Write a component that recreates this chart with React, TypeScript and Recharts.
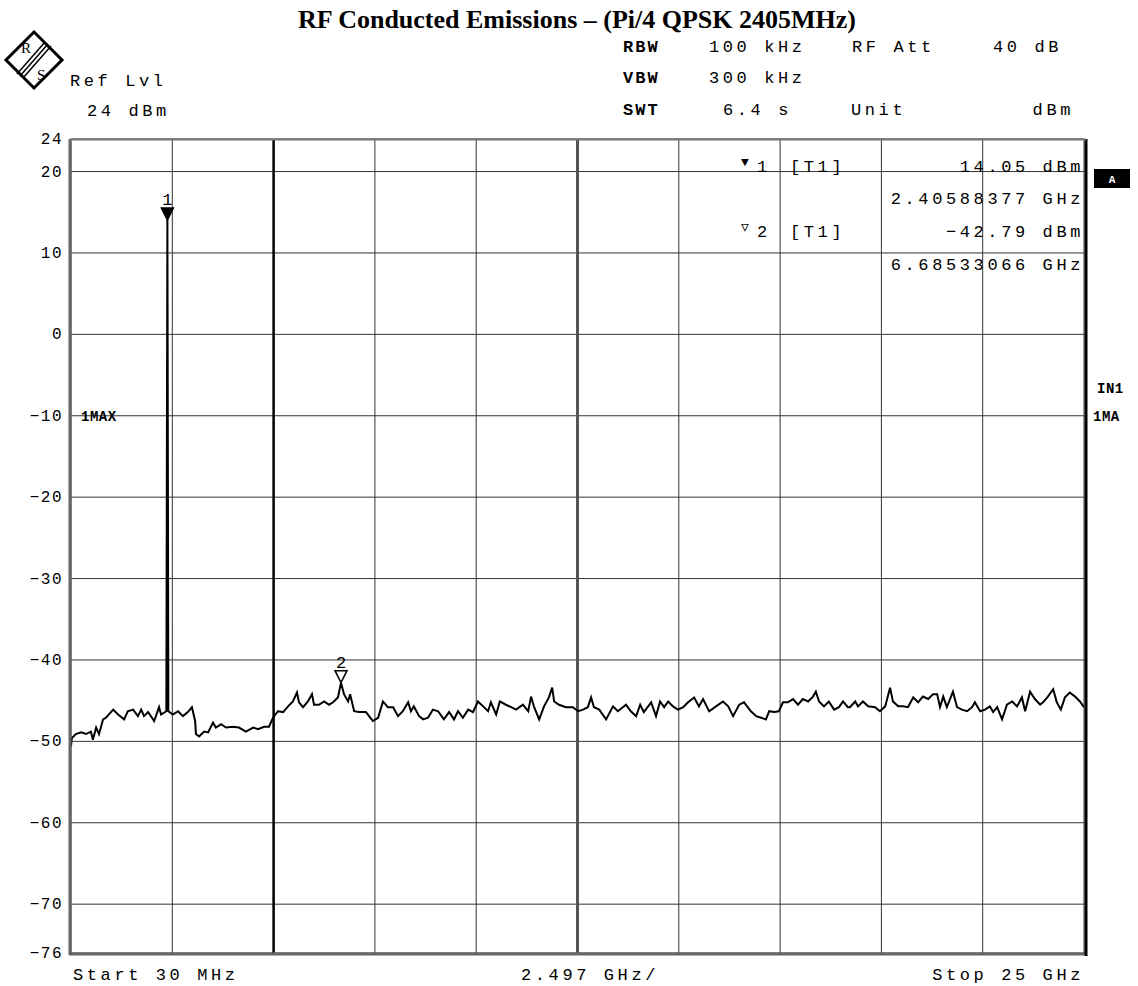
import React from 'react';
import {
  LineChart,
  Line,
  XAxis,
  YAxis,
  CartesianGrid,
  ReferenceLine,
  ReferenceDot,
} from 'recharts';

// trace (GHz / dBm)
const FREQ_GHZ = [
  0.03, 0.05, 0.15, 0.28, 0.4, 0.52, 0.57, 0.65, 0.72, 0.82, 0.89, 1.07, 1.19, 1.34, 1.43, 1.56,
  1.68, 1.76, 1.83, 1.93, 2.08, 2.2, 2.25, 2.38, 2.406, 2.43, 2.54, 2.67, 2.79, 2.91, 3.01, 3.09,
  3.11, 3.19, 3.31, 3.41, 3.53, 3.6, 3.73, 3.85, 4.02, 4.17, 4.34, 4.52, 4.64, 4.79, 4.91, 5.01,
  5.13, 5.26, 5.38, 5.5, 5.6, 5.65, 5.75, 5.87, 5.97, 6.02, 6.14, 6.27, 6.39, 6.49, 6.61, 6.685,
  6.76, 6.86, 6.91, 7.01, 7.13, 7.3, 7.47, 7.6, 7.72, 7.84, 7.97, 8.09, 8.21, 8.34, 8.41, 8.48,
  8.61, 8.71, 8.83, 8.95, 9.08, 9.22, 9.35, 9.47, 9.57, 9.69, 9.82, 9.94, 10.06, 10.19, 10.31, 10.38,
  10.51, 10.6, 10.75, 10.88, 11.0, 11.17, 11.3, 11.37, 11.44, 11.57, 11.69, 11.81, 11.89, 11.94, 12.06, 12.23,
  12.4, 12.53, 12.65, 12.77, 12.85, 12.92, 13.05, 13.22, 13.39, 13.51, 13.71, 13.83, 13.96, 14.06, 14.15, 14.33,
  14.45, 14.55, 14.65, 14.75, 14.87, 14.99, 15.12, 15.24, 15.39, 15.51, 15.61, 15.76, 15.93, 16.1, 16.23, 16.35,
  16.5, 16.62, 16.79, 16.92, 17.04, 17.16, 17.24, 17.36, 17.48, 17.58, 17.7, 17.83, 17.95, 18.07, 18.2, 18.32,
  18.39, 18.47, 18.59, 18.71, 18.84, 18.96, 19.06, 19.18, 19.23, 19.36, 19.43, 19.55, 19.68, 19.85, 19.97, 20.1,
  20.22, 20.29, 20.42, 20.54, 20.66, 20.79, 20.91, 21.03, 21.16, 21.28, 21.38, 21.45, 21.53, 21.62, 21.77, 21.87,
  21.99, 22.12, 22.24, 22.31, 22.44, 22.56, 22.68, 22.76, 22.86, 22.98, 23.1, 23.23, 23.35, 23.47, 23.55, 23.67,
  23.79, 23.92, 23.99, 24.11, 24.24, 24.33, 24.43, 24.53, 24.65, 24.78, 24.9, 25.0,
];

const LEVEL_DBM = [
  -50.6, -49.6, -49.1, -48.9, -49.1, -48.8, -49.8, -48.3, -49.1, -47.3, -47.1, -46.1, -46.7, -47.3, -46.3, -46.1,
  -46.9, -46.1, -46.9, -46.4, -47.5, -45.8, -46.7, -46.3, 14.05, -46.3, -46.7, -46.3, -46.9, -46.4, -45.8, -47.5,
  -49.1, -49.4, -48.8, -48.9, -47.7, -48.3, -47.9, -48.3, -48.2, -48.3, -48.8, -48.3, -48.5, -48.2, -48.2, -47.1,
  -46.3, -46.4, -45.7, -45.1, -44.0, -45.2, -45.8, -45.1, -44.2, -45.5, -45.5, -45.1, -45.5, -45.2, -44.6, -42.79,
  -44.2, -45.1, -44.2, -46.3, -46.4, -46.4, -47.5, -47.1, -45.1, -45.8, -45.8, -46.9, -46.3, -45.2, -46.3, -45.7,
  -46.9, -47.3, -47.1, -46.1, -46.3, -47.3, -46.4, -47.3, -46.3, -47.1, -46.1, -46.4, -45.1, -45.7, -46.3, -45.2,
  -46.7, -45.1, -45.5, -45.8, -46.1, -45.5, -46.3, -44.5, -45.7, -47.3, -45.7, -44.6, -43.4, -45.1, -45.5, -45.8,
  -45.8, -46.3, -46.1, -45.8, -44.6, -45.8, -46.1, -47.3, -45.7, -46.3, -45.5, -46.3, -46.9, -45.5, -46.4, -45.2,
  -46.9, -45.1, -45.8, -45.1, -45.7, -46.1, -45.8, -45.2, -44.6, -45.7, -44.8, -46.3, -45.7, -45.1, -45.7, -46.9,
  -45.5, -45.2, -46.3, -46.9, -47.1, -47.3, -46.3, -46.4, -46.3, -45.2, -45.2, -44.8, -45.5, -44.8, -45.1, -44.5,
  -43.9, -45.1, -45.7, -45.1, -46.1, -45.8, -45.1, -45.8, -45.8, -45.1, -45.7, -45.1, -45.7, -45.8, -46.3, -45.7,
  -43.4, -45.1, -45.7, -45.7, -45.8, -44.6, -45.2, -44.5, -44.8, -44.2, -44.2, -45.8, -44.5, -45.8, -43.9, -45.8,
  -46.1, -46.3, -45.8, -45.2, -46.3, -46.1, -45.7, -46.4, -45.8, -47.3, -45.5, -45.1, -45.7, -44.6, -46.3, -43.9,
  -44.8, -45.5, -45.2, -44.5, -43.6, -45.2, -46.1, -44.6, -44.0, -44.5, -45.1, -45.8,
];

const Y_TICKS = [24, 20, 10, 0, -10, -20, -30, -40, -50, -60, -70, -76];
const X_START = 0.03;
const X_STOP = 25;
const X_PER_DIV = 2.497;
const X_GRID = Array.from({ length: 11 }, (_, i) =>
  i === 10 ? X_STOP : +(X_START + i * X_PER_DIV).toFixed(3)
);
const FREQ_LINE = X_GRID[2];
const CENTER_LINE = X_GRID[5];

const MARKERS = [
  { id: '1', freq: 2.40588377, level: 14.05, filled: true },
  { id: '2', freq: 6.68533066, level: -42.79, filled: false },
];

const MONO = 'Liberation Mono, DejaVu Sans Mono, monospace';

const W = 1138;
const H = 986;

const fmtTick = (v: number) => (v < 0 ? `\u2212${Math.abs(v)}` : String(v));

const YTick = (props: any) => {
  const { x, y, payload } = props;
  return (
    <text
      x={x}
      y={y + 5}
      textAnchor="end"
      fontFamily={MONO}
      fontSize={16}
      letterSpacing={1.5}
      fill="#000"
    >
      {fmtTick(payload.value)}
    </text>
  );
};

const markerShape = (m: { id: string; filled: boolean }) => (props: any) => {
  const { cx, cy } = props;
  return (
    <g>
      <polygon
        points={`${cx - 6},${cy - 12} ${cx + 6},${cy - 12} ${cx},${cy}`}
        fill={m.filled ? '#000' : '#fff'}
        stroke="#000"
        strokeWidth={1.5}
      />
      <text x={cx} y={cy - 15} textAnchor="middle" fontFamily={MONO} fontSize={17} fill="#000">
        {m.id}
      </text>
    </g>
  );
};

const T = (p: {
  x: number;
  y: number;
  children: React.ReactNode;
  anchor?: 'start' | 'middle' | 'end';
  bold?: boolean;
  size?: number;
  ls?: number;
}) => (
  <text
    x={p.x}
    y={p.y}
    textAnchor={p.anchor || 'start'}
    fontFamily={MONO}
    fontSize={p.size || 17}
    fontWeight={p.bold ? 'bold' : 'normal'}
    letterSpacing={p.ls ?? 3.6}
    fill="#000"
  >
    {p.children}
  </text>
);

const App: React.FC = () => {
  const chartData = FREQ_GHZ.map((f, i) => ({ f, v: LEVEL_DBM[i] }));

  return (
    <div style={{ position: 'absolute', left: 0, top: 0, width: W, height: H, background: '#fff' }}>
      <LineChart
        width={W}
        height={H}
        data={chartData}
        margin={{ top: 139, right: 54, bottom: 33, left: 11 }}
      >
        <CartesianGrid stroke="#333" strokeWidth={1} vertical={false} />
        <XAxis
          dataKey="f"
          type="number"
          domain={[X_START, X_STOP]}
          ticks={X_GRID}
          tick={false}
          tickLine={false}
          axisLine={false}
          height={0}
          allowDataOverflow
        />
        <YAxis
          type="number"
          domain={[-76, 24]}
          ticks={Y_TICKS}
          interval={0}
          width={60}
          tickLine={false}
          axisLine={false}
          tick={<YTick />}
          allowDataOverflow
        />
        {X_GRID.map((g) => (
          <ReferenceLine key={g} x={g} stroke="#333" strokeWidth={1} />
        ))}
        <ReferenceLine x={FREQ_LINE} stroke="#000" strokeWidth={2.5} />
        <ReferenceLine x={CENTER_LINE} stroke="#555" strokeWidth={3} />
        <Line
          type="linear"
          dataKey="v"
          stroke="#000"
          strokeWidth={2}
          dot={false}
          isAnimationActive={false}
        />
        {MARKERS.map((m) => (
          <ReferenceDot
            key={m.id}
            x={m.freq}
            y={m.level}
            r={0}
            ifOverflow="visible"
            shape={markerShape(m)}
          />
        ))}
      </LineChart>

      <svg
        width={W}
        height={H}
        style={{ position: 'absolute', left: 0, top: 0, pointerEvents: 'none' }}
      >
        {/* plot frame */}
        <line x1={70} y1={139} x2={70} y2={955} stroke="#666" strokeWidth={3} />
        <line x1={69} y1={954} x2={1086} y2={954} stroke="#666" strokeWidth={3} />
        <line x1={1086} y1={139} x2={1086} y2={956} stroke="#000" strokeWidth={3} />
        <line x1={70} y1={139.5} x2={1086} y2={139.5} stroke="#777" strokeWidth={2} />

        {/* title */}
        <text
          x={577}
          y={28}
          textAnchor="middle"
          fontFamily="Liberation Serif, Times New Roman, serif"
          fontWeight="bold"
          fontSize={26}
          fill="#000"
        >
          RF Conducted Emissions – (Pi/4 QPSK 2405MHz)
        </text>

        {/* R&S logo */}
        <g>
          <polygon points="34,32 62,60 34,88 6,60" fill="#fff" stroke="#000" strokeWidth={3} />
          <line x1={20} y1={76} x2={48} y2={44} stroke="#000" strokeWidth={1.5} />
          <line x1={23} y1={78} x2={51} y2={46} stroke="#000" strokeWidth={1.5} />
          <line x1={17} y1={74} x2={45} y2={42} stroke="#000" strokeWidth={1.5} />
          <text x={21} y={53} fontFamily="Liberation Serif, serif" fontSize={15} fill="#000">
            R
          </text>
          <text x={37} y={80} fontFamily="Liberation Serif, serif" fontSize={15} fill="#000">
            S
          </text>
        </g>

        {/* header */}
        <T x={70} y={86}>Ref Lvl</T>
        <T x={87} y={116}>24 dBm</T>

        <T x={623} y={52} bold ls={2}>RBW</T>
        <T x={709} y={52}>100 kHz</T>
        <T x={852} y={52}>RF Att</T>
        <T x={1062} y={52} anchor="end">40 dB</T>
        <T x={623} y={83} bold ls={2}>VBW</T>
        <T x={709} y={83}>300 kHz</T>
        <T x={623} y={115} bold ls={2}>SWT</T>
        <T x={723} y={115}>6.4 s</T>
        <T x={851} y={115}>Unit</T>
        <T x={1074} y={115} anchor="end">dBm</T>

        {/* marker info */}
        <T x={741} y={166} size={13} ls={0}>▼</T>
        <T x={757} y={172}>1</T>
        <T x={790} y={172}>[T1]</T>
        <T x={1084} y={172} anchor="end">14.05 dBm</T>
        <T x={1084} y={204} anchor="end">2.40588377 GHz</T>
        <T x={741} y={231} size={13} ls={0}>▽</T>
        <T x={757} y={237}>2</T>
        <T x={790} y={237}>[T1]</T>
        <T x={1084} y={237} anchor="end">−42.79 dBm</T>
        <T x={1084} y={270} anchor="end">6.68533066 GHz</T>

        {/* side labels */}
        <rect x={1094} y={169} width={36} height={19} fill="#000" />
        <text x={1112} y={183} textAnchor="middle" fontFamily={MONO} fontWeight="bold" fontSize={11} fill="#fff">
          A
        </text>
        <T x={1097} y={393} bold size={14} ls={0.5}>IN1</T>
        <T x={1093} y={421} bold size={14} ls={0.5}>1MA</T>
        <T x={81} y={421} bold size={14} ls={0.5}>1MAX</T>

        {/* footer */}
        <T x={73} y={980}>Start 30 MHz</T>
        <T x={590} y={980} anchor="middle">2.497 GHz/</T>
        <T x={1084} y={980} anchor="end">Stop 25 GHz</T>
      </svg>
    </div>
  );
};

export default App;
